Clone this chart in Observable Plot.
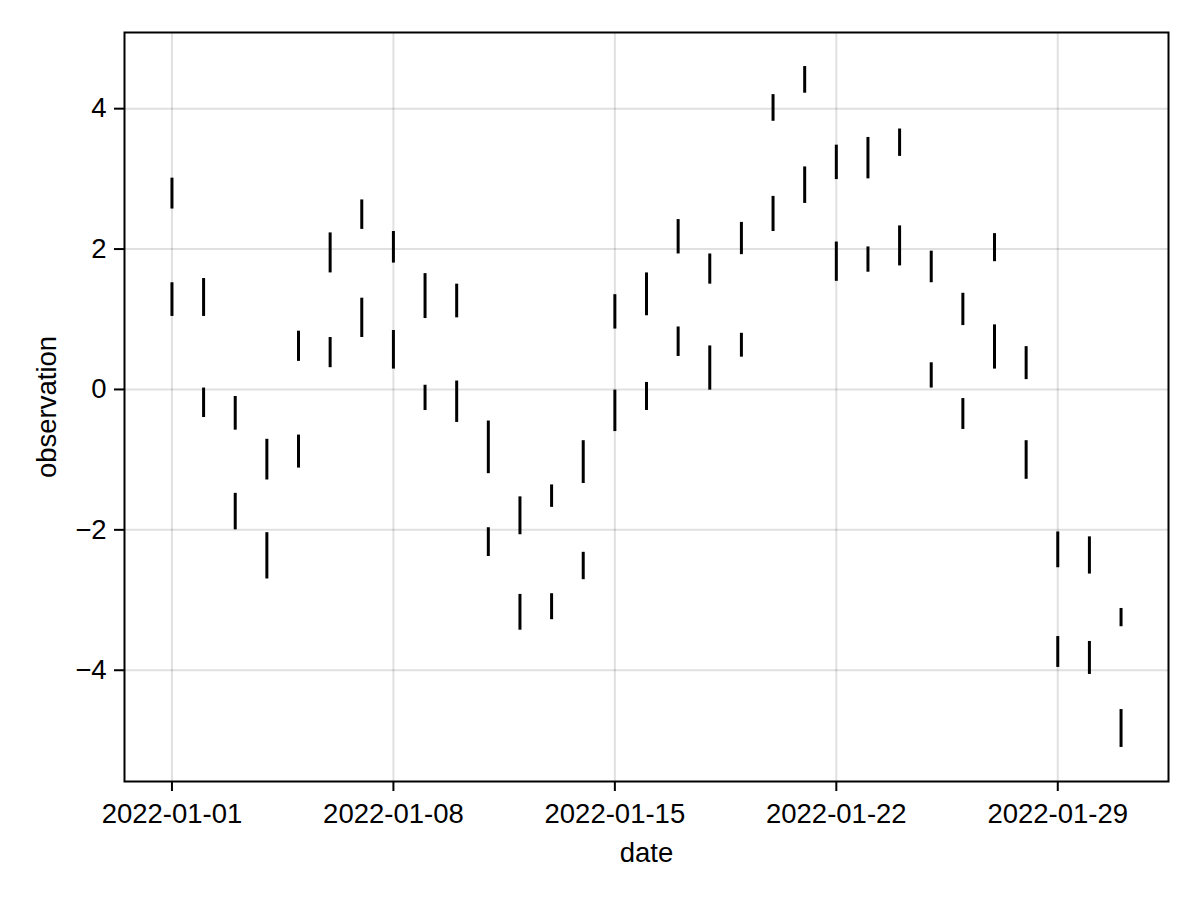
<!DOCTYPE html>
<html>
<head>
<meta charset="utf-8">
<script src="https://cdn.jsdelivr.net/npm/d3@7"></script>
<script src="https://cdn.jsdelivr.net/npm/@observablehq/plot@0.6"></script>
<style>
  html, body { margin: 0; padding: 0; background: #fff; }
  #chart svg { display: block; }
</style>
</head>
<body>
<div id="chart"></div>
<script>
const dates = [
  "2022-01-01","2022-01-02","2022-01-03","2022-01-04","2022-01-05","2022-01-06","2022-01-07",
  "2022-01-08","2022-01-09","2022-01-10","2022-01-11","2022-01-12","2022-01-13","2022-01-14",
  "2022-01-15","2022-01-16","2022-01-17","2022-01-18","2022-01-19","2022-01-20","2022-01-21",
  "2022-01-22","2022-01-23","2022-01-24","2022-01-25","2022-01-26","2022-01-27","2022-01-28",
  "2022-01-29","2022-01-30","2022-01-31"
];
const upperHigh = [3.01,1.58,-0.10,-0.71,0.83,2.23,2.70,2.25,1.65,1.50,-0.45,-1.53,-1.36,-0.73,1.35,1.66,2.42,1.93,2.38,4.20,4.60,3.48,3.59,3.71,1.97,1.37,2.22,0.61,-2.03,-2.10,-3.12];
const upperLow  = [2.57,1.04,-0.58,-1.29,0.40,1.66,2.28,1.80,1.01,1.02,-1.20,-2.07,-1.68,-1.34,0.86,1.05,1.93,1.50,1.92,3.82,4.22,2.99,3.00,3.32,1.52,0.91,1.82,0.14,-2.54,-2.63,-3.38];
const lowerHigh = [1.52,0.02,-1.48,-2.04,-0.65,0.74,1.30,0.84,0.06,0.12,-1.97,-2.92,-2.91,-2.32,-0.01,0.10,0.89,0.62,0.80,2.75,3.17,2.10,2.03,2.33,0.38,-0.13,0.92,-0.73,-3.52,-3.59,-4.56];
const lowerLow  = [1.04,-0.40,-2.00,-2.70,-1.12,0.31,0.74,0.29,-0.30,-0.47,-2.38,-3.43,-3.28,-2.71,-0.60,-0.30,0.47,-0.01,0.46,2.25,2.65,1.54,1.67,1.76,0.02,-0.57,0.29,-1.28,-3.96,-4.06,-5.10];
const xTickDates = ["2022-01-01","2022-01-08","2022-01-15","2022-01-22","2022-01-29"];
const yTicks = [-4, -2, 0, 2, 4];
const xLabel = "date";
const yLabel = "observation";

const rows = [];
dates.forEach((d, i) => {
  rows.push({date: new Date(d), lo: upperLow[i], hi: upperHigh[i]});
  rows.push({date: new Date(d), lo: lowerLow[i], hi: lowerHigh[i]});
});
const xTicks = xTickDates.map(d => new Date(d));

const FONT = "'Liberation Sans', Arial, Helvetica, sans-serif";
const FS = 27.5;
const fmtY = d => d < 0 ? "\u2212" + Math.abs(d) : String(d);

const chart = Plot.plot({
  width: 1200,
  height: 900,
  marginLeft: 124,
  marginRight: 32,
  marginTop: 32,
  marginBottom: 119,
  style: {fontFamily: FONT, fontSize: FS + "px", background: "#fff", color: "#000"},
  x: {type: "utc", domain: [new Date("2021-12-30T12:00:00Z"), new Date("2022-02-01T12:00:00Z")]},
  y: {domain: [-5.585, 5.085]},
  marks: [
    Plot.gridX(xTicks, {stroke: "#000", strokeOpacity: 0.12, strokeWidth: 2}),
    Plot.gridY(yTicks, {stroke: "#000", strokeOpacity: 0.12, strokeWidth: 2}),
    Plot.ruleX(rows, {x: "date", y1: "lo", y2: "hi", stroke: "#000", strokeWidth: 3}),
    Plot.axisX(xTicks, {tickSize: 10, tickPadding: 12, strokeWidth: 2, tickFormat: d3.utcFormat("%Y-%m-%d"), label: null, fontSize: FS}),
    Plot.axisY(yTicks, {tickSize: 10, tickPadding: 8, strokeWidth: 2, tickFormat: fmtY, label: null, fontSize: FS}),
    Plot.frame({stroke: "#000", strokeWidth: 2}),
    Plot.text([xLabel], {frameAnchor: "bottom", dy: 72, text: d => d, fontSize: FS, textAnchor: "middle", lineAnchor: "middle"}),
    Plot.text([yLabel], {frameAnchor: "left", dx: -77, rotate: -90, text: d => d, fontSize: FS, textAnchor: "middle", lineAnchor: "middle"})
  ]
});
document.getElementById("chart").appendChild(chart);
</script>
</body>
</html>
